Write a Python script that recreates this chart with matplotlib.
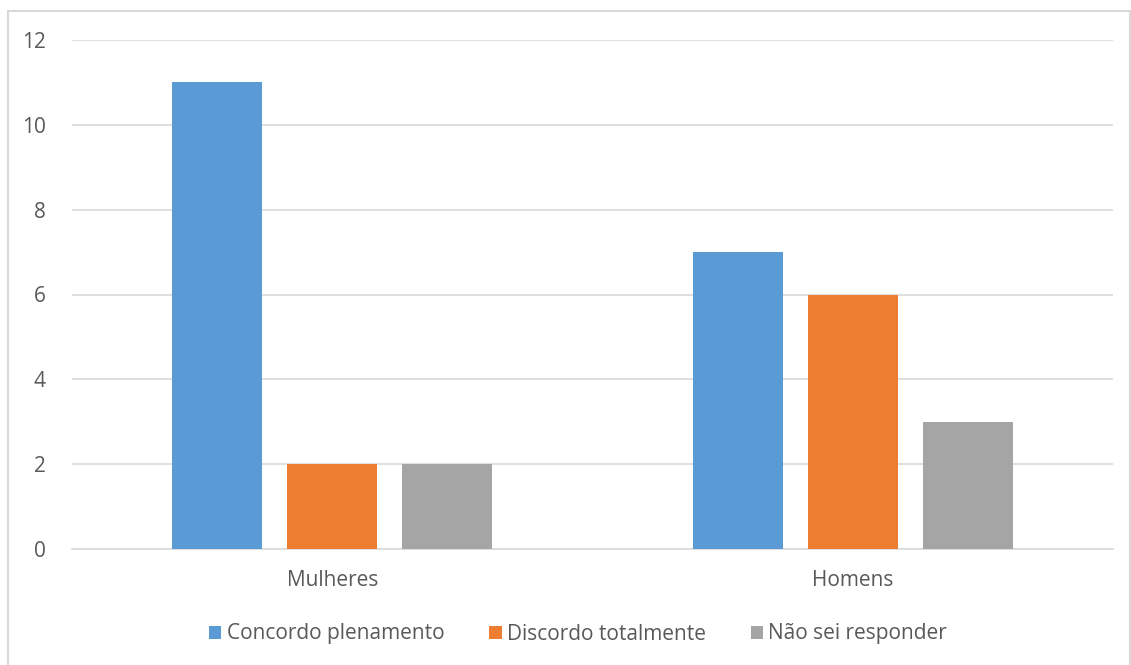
import matplotlib
matplotlib.use("Agg")
import matplotlib.pyplot as plt
from matplotlib.patches import Rectangle
import numpy as np

categories = ["Mulheres", "Homens"]
series_names = ["Concordo plenamento", "Discordo totalmente", "Não sei responder"]
concordo = [11, 7]
discordo = [2, 6]
nao_sei = [2, 3]
yticks = [0, 2, 4, 6, 8, 10, 12]

colors = ["#5B9BD5", "#ED7D31", "#A5A5A5"]
text_color = "#595959"
grid_color = "#D9D9D9"

plt.rcParams["font.family"] = ["Open Sans", "DejaVu Sans"]

fig = plt.figure(figsize=(11.31, 6.65), dpi=100)
fig.patch.set_facecolor("white")
fig.patches.append(Rectangle((8 / 1131, -0.1), (1130 - 8) / 1131, 1.1 - 11 / 665,
                             transform=fig.transFigure, fill=False,
                             edgecolor="#D9D9D9", linewidth=1.5))

ax = fig.add_axes([72 / 1131, 1 - 549 / 665, (1113 - 72) / 1131, (549 - 40) / 665])

x = np.arange(len(categories))
width = 0.173
offset = 0.221
for i, (vals, name) in enumerate(zip([concordo, discordo, nao_sei], series_names)):
    ax.bar(x + (i - 1) * offset, vals, width, color=colors[i], label=name, zorder=3)

ax.set_xlim(-0.5, 1.5)
ax.set_ylim(0, 12)
ax.set_yticks(yticks)
ax.set_yticklabels([str(t) for t in yticks])
ax.set_xticks(x)
ax.set_xticklabels(categories)
ax.grid(axis="y", color=grid_color, linewidth=1.2, zorder=0)
for s in ["top", "right", "left"]:
    ax.spines[s].set_visible(False)
ax.spines["bottom"].set_color(grid_color)
ax.spines["bottom"].set_linewidth(1.2)
ax.tick_params(axis="both", length=0, colors=text_color, labelsize=15)
ax.tick_params(axis="y", pad=19)
ax.tick_params(axis="x", pad=15)

leg = fig.legend(loc="center", bbox_to_anchor=(578 / 1131, 1 - 634 / 665), ncol=3,
                 frameon=False, fontsize=15, handlelength=0.6, handleheight=0.6,
                 handletextpad=0.25, columnspacing=2.15)
for t in leg.get_texts():
    t.set_color(text_color)

fig.savefig("out.png", dpi=100, facecolor="white")
